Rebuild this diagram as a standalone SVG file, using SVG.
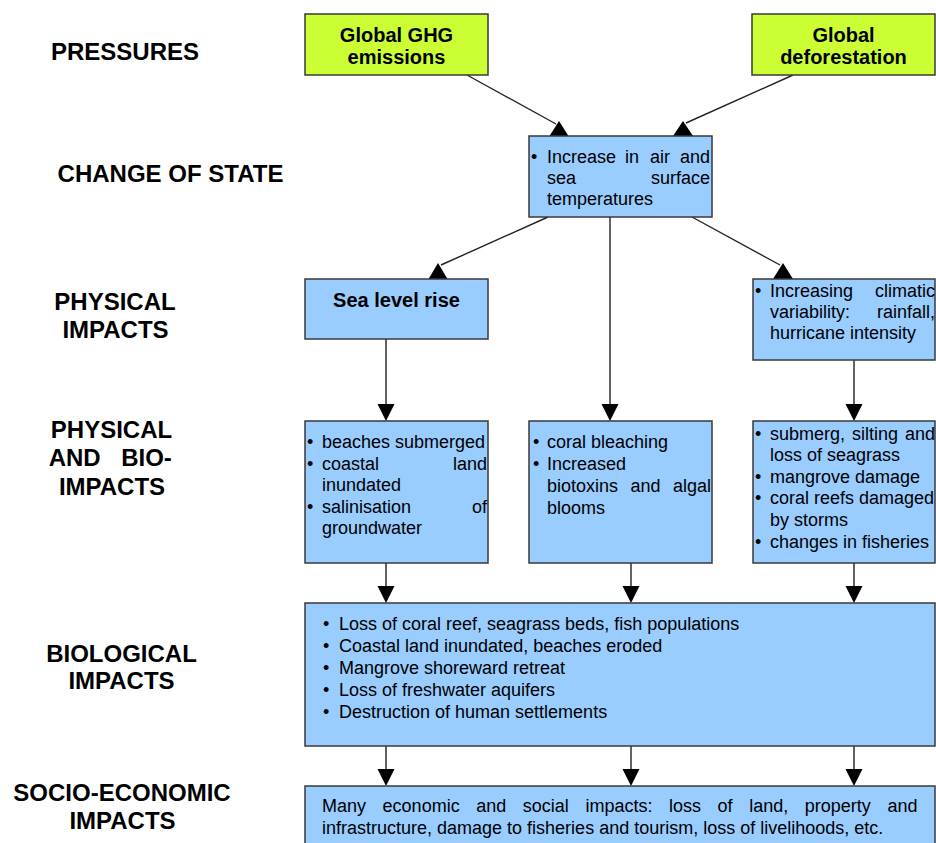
<svg xmlns="http://www.w3.org/2000/svg" width="936" height="843" viewBox="0 0 936 843">
<style>
text{font-family:"Liberation Sans",Arial,sans-serif;fill:#000}
.lab{font-size:24px;font-weight:bold;text-anchor:middle}
.tt{font-size:20px;font-weight:bold;text-anchor:middle}
.b{font-size:18px}
.e{text-anchor:end}
.g{fill:#CCFF33;stroke:#3a3a3a;stroke-width:1.5}
.bl{fill:#99CCFF;stroke:#3a3a3a;stroke-width:1.5}
.ln{stroke:#222;stroke-width:1.4;fill:none}
.ah{fill:#000}
</style>
<rect width="936" height="843" fill="#fff"/>

<g id="labels">
<text class="lab" x="125" y="60">PRESSURES</text>
<text class="lab" x="170.5" y="182">CHANGE OF STATE</text>
<text class="lab" x="115" y="310">PHYSICAL</text>
<text class="lab" x="115.5" y="338">IMPACTS</text>
<text class="lab" x="111.5" y="438">PHYSICAL</text>
<text class="lab" x="112" y="466"><tspan x="78">AND</tspan> <tspan x="146.5">BIO-</tspan></text>
<text class="lab" x="112" y="495">IMPACTS</text>
<text class="lab" x="121.5" y="662">BIOLOGICAL</text>
<text class="lab" x="121.5" y="689">IMPACTS</text>
<text class="lab" x="122" y="801">SOCIO-ECONOMIC</text>
<text class="lab" x="122.5" y="829">IMPACTS</text>
</g>

<g id="connectors">
<line class="ln" x1="467" y1="75" x2="556" y2="124"/>
<polygon class="ah" points="559,121 568.5,136 549.5,136"/>
<line class="ln" x1="793" y1="75" x2="686" y2="123"/>
<polygon class="ah" points="683,121 693,136 673,136"/>
<line class="ln" x1="548" y1="217" x2="441" y2="265"/>
<polygon class="ah" points="438,263 447.5,279 428.5,279"/>
<line class="ln" x1="692" y1="217" x2="780" y2="265"/>
<polygon class="ah" points="783,263 793,279 773,279"/>
<line class="ln" x1="610" y1="217" x2="610" y2="405"/>
<polygon class="ah" points="601.5,404 618.5,404 610,421"/>
<line class="ln" x1="386" y1="339" x2="386" y2="405"/>
<polygon class="ah" points="377.5,404 394.5,404 386,421"/>
<line class="ln" x1="854" y1="360" x2="854" y2="405"/>
<polygon class="ah" points="845.5,404 862.5,404 854,421"/>
<line class="ln" x1="386" y1="563" x2="386" y2="588"/>
<polygon class="ah" points="377.5,586 394.5,586 386,603"/>
<line class="ln" x1="631" y1="563" x2="631" y2="588"/>
<polygon class="ah" points="622.5,586 639.5,586 631,603"/>
<line class="ln" x1="854" y1="563" x2="854" y2="588"/>
<polygon class="ah" points="845.5,586 862.5,586 854,603"/>
<line class="ln" x1="386" y1="746" x2="386" y2="771"/>
<polygon class="ah" points="377.5,769 394.5,769 386,786"/>
<line class="ln" x1="631" y1="746" x2="631" y2="771"/>
<polygon class="ah" points="622.5,769 639.5,769 631,786"/>
<line class="ln" x1="854" y1="746" x2="854" y2="771"/>
<polygon class="ah" points="845.5,769 862.5,769 854,786"/>
</g>

<g id="ghg">
<rect class="g" x="305" y="14" width="183" height="61"/>
<text class="tt" x="396.5" y="42">Global GHG</text>
<text class="tt" x="396.5" y="64">emissions</text>
</g>

<g id="deforestation">
<rect class="g" x="752" y="14" width="183" height="61"/>
<text class="tt" x="843.5" y="42">Global</text>
<text class="tt" x="843.5" y="64">deforestation</text>
</g>

<g id="state">
<rect class="bl" x="529" y="136" width="183" height="81"/>
<text class="b" x="531" y="163">•</text>
<text class="b" y="163"><tspan x="547">Increase</tspan><tspan x="625">in</tspan><tspan x="650">air</tspan><tspan x="680">and</tspan></text>
<text class="b" y="184"><tspan x="547">sea</tspan><tspan x="651">surface</tspan></text>
<text class="b" x="547" y="205">temperatures</text>
</g>

<g id="sealevel">
<rect class="bl" x="305" y="279" width="183" height="60"/>
<text class="tt" x="396.5" y="307">Sea level rise</text>
</g>

<g id="climatic">
<rect class="bl" x="753" y="279" width="182" height="81"/>
<text class="b" x="755" y="297">•</text>
<text class="b" y="297"><tspan x="770">Increasing</tspan><tspan x="875">climatic</tspan></text>
<text class="b" y="318"><tspan x="770">variability:</tspan><tspan x="877">rainfall,</tspan></text>
<text class="b" x="770" y="339">hurricane intensity</text>
</g>

<g id="physical-left">
<rect class="bl" x="305" y="421" width="183" height="142"/>
<text class="b" x="307" y="448">•</text>
<text class="b" x="322" y="448">beaches submerged</text>
<text class="b" x="307" y="470">•</text>
<text class="b" y="470"><tspan x="322">coastal</tspan><tspan x="453">land</tspan></text>
<text class="b" x="322" y="491">inundated</text>
<text class="b" x="307" y="513">•</text>
<text class="b" y="513"><tspan x="322">salinisation</tspan><tspan x="472">of</tspan></text>
<text class="b" x="322" y="534">groundwater</text>
</g>

<g id="physical-center">
<rect class="bl" x="529" y="421" width="183" height="142"/>
<text class="b" x="533" y="448">•</text>
<text class="b" x="547" y="448">coral bleaching</text>
<text class="b" x="533" y="470">•</text>
<text class="b" x="547" y="470">Increased</text>
<text class="b" y="492"><tspan x="547">biotoxins</tspan><tspan x="630.5">and</tspan><tspan x="673">algal</tspan></text>
<text class="b" x="547" y="514">blooms</text>
</g>

<g id="physical-right">
<rect class="bl" x="753" y="421" width="182" height="142"/>
<text class="b" x="755" y="440">•</text>
<text class="b" y="440"><tspan x="770">submerg,</tspan><tspan x="852">silting</tspan><tspan x="905">and</tspan></text>
<text class="b" x="770" y="461">loss of seagrass</text>
<text class="b" x="755" y="483">•</text>
<text class="b" x="770" y="483">mangrove damage</text>
<text class="b" x="755" y="504">•</text>
<text class="b" x="770" y="504">coral reefs damaged</text>
<text class="b" x="770" y="526">by storms</text>
<text class="b" x="755" y="548">•</text>
<text class="b" x="770" y="548">changes in fisheries</text>
</g>

<g id="biological">
<rect class="bl" x="305" y="603" width="630" height="143"/>
<text class="b" x="323" y="630">•</text>
<text class="b" x="339" y="630">Loss of coral reef, seagrass beds, fish populations</text>
<text class="b" x="323" y="652">•</text>
<text class="b" x="339" y="652">Coastal land inundated, beaches eroded</text>
<text class="b" x="323" y="674">•</text>
<text class="b" x="339" y="674">Mangrove shoreward retreat</text>
<text class="b" x="323" y="696">•</text>
<text class="b" x="339" y="696">Loss of freshwater aquifers</text>
<text class="b" x="323" y="718">•</text>
<text class="b" x="339" y="718">Destruction of human settlements</text>
</g>

<g id="socio">
<rect class="bl" x="305" y="786" width="630" height="70"/>
<text class="b" y="812"><tspan x="322">Many</tspan><tspan x="382.6">economic</tspan><tspan x="476.2">and</tspan><tspan x="522.8">social</tspan><tspan x="585.4">impacts:</tspan><tspan x="669">loss</tspan><tspan x="717.6">of</tspan><tspan x="749.2">land,</tspan><tspan x="804.8">property</tspan><tspan x="887.4">and</tspan></text>
<text class="b" x="322" y="834">infrastructure, damage to fisheries and tourism, loss of livelihoods, etc.</text>
</g>
</svg>
